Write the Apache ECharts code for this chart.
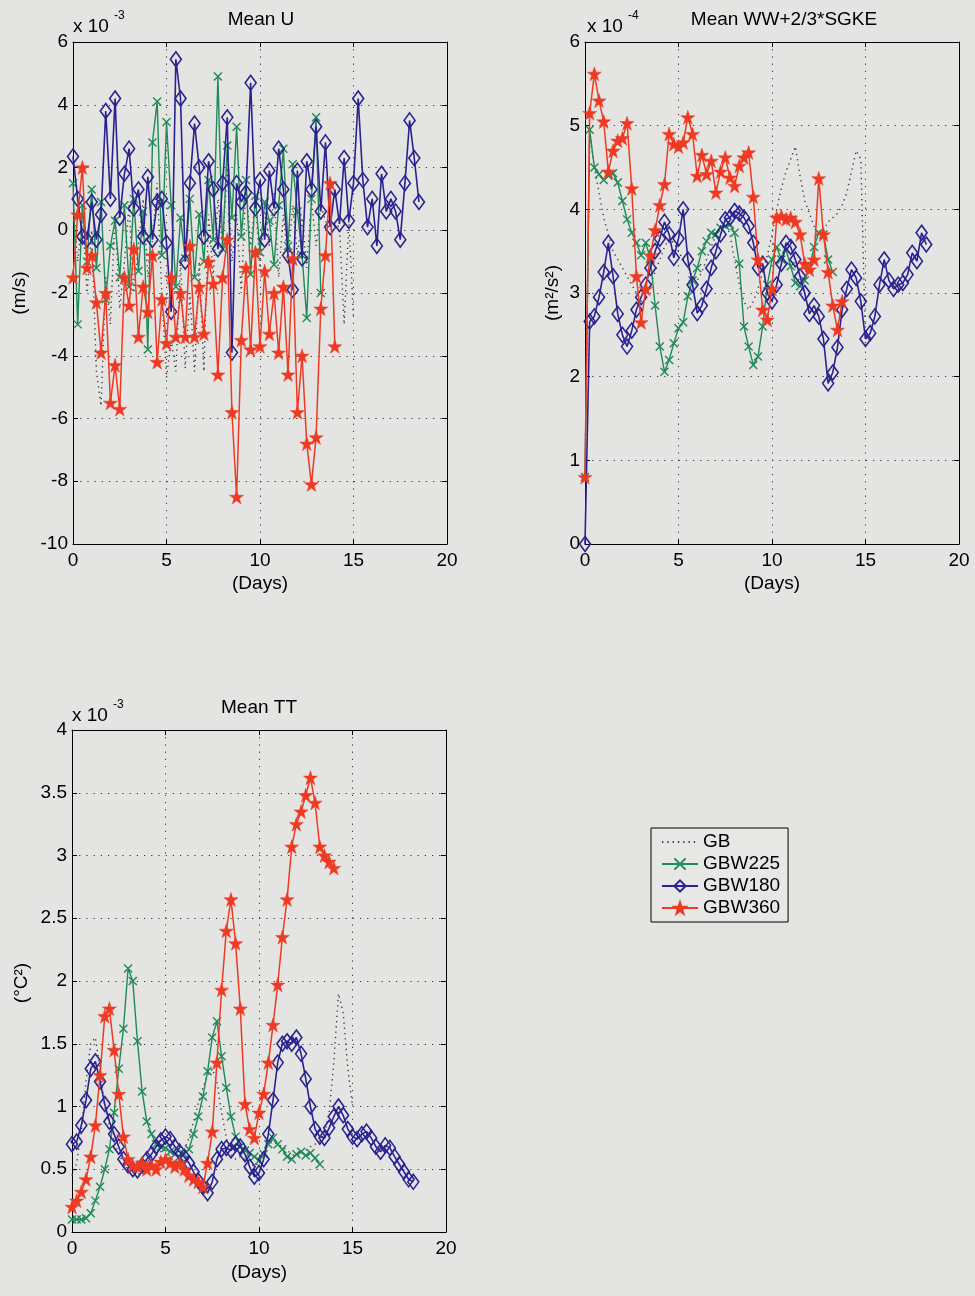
<!DOCTYPE html>
<html>
<head>
<meta charset="utf-8">
<script src="https://cdn.jsdelivr.net/npm/echarts@6.0.0/dist/echarts.min.js"></script>
<style>
html,body{margin:0;padding:0;background:#e4e4e2;}
#c{width:975px;height:1296px;}
</style>
</head>
<body>
<div id="c"></div>
<script>
// sampling interval (days)
const DT = 0.25;
const seriesNames = ['GB', 'GBW225', 'GBW180', 'GBW360'];
const xTicks = [0, 5, 10, 15, 20];

// ---- Mean U (x 10^-3 m/s) ----
const uGB = [1.0,-1.0,0.5,-2.0,0.0,-4.5,-5.6,-1.5,-3.0,0.5,-2.5,-1.0,0.8,-2.0,-0.5,1.0,-1.5,-0.3,1.5,-2.0,
  -4.7,-3.5,-4.5,-1.0,-4.4,-2.0,-4.5,-1.0,-4.5,0.5,-1.5,1.0,-0.5,2.0,-1.0,0.5,-2.0,1.5,-0.5,1.0,
  -1.2,0.8,-0.5,1.2,-1.5,0.5,-1.0,0.8,-0.8,0.4,-1.2,1.0,-0.5,0.8,0.3,0.0,0.2,0.1,-3.0,0.3,-2.8];
const uW225 = [1.5,-3.0,0.8,-1.0,1.3,-1.2,0.9,-2.2,-0.5,0.3,-1.5,0.8,-1.8,1.0,-1.3,0.6,-3.8,2.8,4.1,-0.8,
  3.45,0.8,-1.8,0.4,-0.9,1.0,-1.5,0.5,-1.0,1.6,-0.3,4.9,-0.6,2.7,0.4,3.3,-0.2,1.6,-1.4,1.1,
  -0.7,0.9,0.3,-1.1,0.8,2.6,-0.5,2.1,0.6,-0.8,-2.8,1.0,3.6,-2.0];
const uW180 = [2.35,1.0,-0.2,-0.3,0.9,-0.3,0.5,3.8,1.0,4.2,0.4,1.8,2.6,0.7,1.3,-0.2,1.7,-0.3,0.9,1.0,
  -0.4,-2.6,5.45,4.2,-1.0,1.5,3.4,2.0,-0.2,2.2,1.3,-0.6,1.5,3.6,-3.9,1.5,0.9,1.2,4.7,0.7,
  1.6,-0.3,1.9,0.7,2.6,1.3,-0.8,-1.9,1.9,-0.9,2.2,1.3,3.3,0.6,2.8,0.1,1.3,0.2,2.3,0.3,
  1.5,4.2,1.6,0.1,1.0,-0.5,1.8,0.6,1.0,0.6,-0.3,1.5,3.5,2.3,0.9];
const uW360 = [-1.5,0.5,2.0,-1.2,-0.8,-2.3,-3.9,-2.0,-5.5,-4.3,-5.7,-1.5,-2.4,-0.6,-3.4,-1.8,-2.6,-0.8,-4.2,-2.2,
  -3.6,-1.5,-3.4,-2.0,-3.4,-0.5,-3.4,-1.8,-3.3,-1.0,-1.7,-4.6,-1.5,-0.3,-5.8,-8.5,-3.5,-1.2,-3.8,-0.7,
  -3.7,-1.3,-3.3,-2.0,-3.9,-1.8,-4.6,-0.9,-5.8,-4.0,-6.8,-8.1,-6.6,-2.5,-0.8,1.5,-3.7];

// ---- Mean WW+2/3*SGKE (x 10^-4 m^2/s^2) ----
const wGB = [0.80,4.90,4.50,4.20,3.90,3.70,3.50,3.40,3.30,3.20,3.10,3.00,2.90,2.95,3.10,3.25,3.40,3.55,3.65,3.60,
  3.50,3.40,3.30,3.20,3.15,3.25,3.40,3.55,3.70,3.80,3.85,3.70,3.40,3.10,2.90,2.80,2.90,3.05,3.25,3.45,
  3.70,4.00,4.25,4.45,4.60,4.75,4.40,4.10,3.95,3.80,3.70,3.75,3.85,3.90,3.95,4.05,4.20,4.45,4.70,4.60,2.40];
const wW225 = [0.80,4.95,4.50,4.42,4.35,4.40,4.43,4.32,4.10,3.88,3.72,3.60,3.45,3.60,3.40,2.85,2.36,2.06,2.20,2.40,
  2.58,2.65,2.96,3.15,3.30,3.50,3.62,3.72,3.70,3.78,3.80,3.82,3.72,3.35,2.60,2.36,2.14,2.24,2.60,3.10,
  3.40,3.55,3.40,3.52,3.32,3.12,3.08,3.15,3.30,3.55,3.72,3.70,3.40,3.25];
const wW180 = [0.00,2.66,2.72,2.95,3.25,3.60,3.20,2.75,2.50,2.36,2.55,2.80,2.95,3.10,3.30,3.50,3.65,3.85,3.70,3.42,
  3.65,4.00,3.40,3.10,2.76,2.85,3.05,3.30,3.50,3.70,3.88,3.90,3.98,3.95,3.90,3.80,3.60,3.30,3.35,3.00,
  2.90,3.10,3.35,3.60,3.55,3.40,3.20,3.00,2.75,2.85,2.72,2.45,1.92,2.05,2.35,2.80,3.05,3.28,3.18,2.90,
  2.45,2.52,2.72,3.10,3.40,3.15,3.05,3.10,3.12,3.22,3.48,3.38,3.72,3.58];
const wW360 = [0.80,5.15,5.62,5.30,5.05,4.45,4.70,4.82,4.85,5.03,4.25,3.20,2.65,3.05,3.45,3.75,4.05,4.30,4.90,4.78,
  4.75,4.80,5.10,4.90,4.40,4.65,4.42,4.58,4.20,4.45,4.62,4.38,4.28,4.52,4.62,4.68,4.15,3.40,2.80,2.68,
  3.05,3.90,3.92,3.88,3.90,3.85,3.70,3.35,3.28,3.40,4.37,3.70,3.25,2.85,2.56,2.90];

// ---- Mean TT (x 10^-3 degC^2) ----
const tGB = [0.45,0.55,0.80,1.20,1.50,1.55,1.30,1.00,0.85,0.72,0.62,0.55,0.50,0.47,0.45,0.50,0.55,0.60,0.62,0.64,
  0.65,0.60,0.55,0.58,0.65,0.75,0.88,1.02,1.15,1.25,1.30,1.20,0.95,0.75,0.62,0.58,0.60,0.58,0.55,0.52,
  0.55,0.62,0.70,0.72,0.70,0.68,0.65,0.62,0.60,0.62,0.65,0.68,0.70,0.72,0.78,0.95,1.35,1.90,1.75,1.30,1.00];
const tW225 = [0.10,0.10,0.10,0.11,0.15,0.25,0.36,0.50,0.66,0.95,1.30,1.62,2.10,2.00,1.52,1.12,0.88,0.78,0.70,0.68,
  0.67,0.64,0.62,0.60,0.62,0.66,0.78,0.92,1.08,1.28,1.55,1.68,1.40,1.15,0.92,0.76,0.68,0.65,0.63,0.60,
  0.57,0.62,0.70,0.75,0.70,0.66,0.60,0.58,0.62,0.64,0.61,0.63,0.59,0.54];
const tW180 = [0.70,0.72,0.85,1.05,1.30,1.36,1.20,1.02,0.88,0.78,0.68,0.58,0.53,0.50,0.49,0.53,0.58,0.62,0.68,0.73,
  0.76,0.74,0.68,0.64,0.60,0.55,0.48,0.41,0.36,0.31,0.40,0.58,0.66,0.67,0.65,0.70,0.68,0.62,0.52,0.44,
  0.47,0.58,0.78,1.05,1.35,1.50,1.52,1.50,1.55,1.42,1.22,1.00,0.82,0.76,0.75,0.83,0.92,1.00,0.93,0.82,
  0.76,0.74,0.78,0.80,0.75,0.68,0.64,0.69,0.67,0.60,0.54,0.48,0.42,0.40];
const tW360 = [0.20,0.25,0.32,0.42,0.60,0.85,1.25,1.72,1.78,1.45,1.10,0.76,0.58,0.53,0.52,0.55,0.50,0.53,0.50,0.56,
  0.58,0.55,0.52,0.55,0.50,0.45,0.42,0.40,0.36,0.55,0.80,1.35,1.93,2.40,2.65,2.30,1.78,1.02,0.82,0.75,
  0.95,1.10,1.35,1.65,1.97,2.35,2.65,3.07,3.25,3.35,3.48,3.62,3.42,3.07,3.00,2.95,2.90];

// ---- axis tick values ----
const uTicks = [-10, -8, -6, -4, -2, 0, 2, 4, 6];
const wTicks = [0, 1, 2, 3, 4, 5, 6];
const tTicks = [0, 0.5, 1, 1.5, 2, 2.5, 3, 3.5, 4];

const C = { gb: '#3c3c3c', g: '#1f8a57', b: '#2a2290', r: '#ee3a22' };
const STAR = 'path://M50,0L61.8,35.5L99,35.5L69,57.5L80.5,93L50,71L19.5,93L31,57.5L1,35.5L38.2,35.5Z';
const XMARK = 'path://M0,0L10,10M0,10L10,0';
const FONT = '"Liberation Sans", Arial, Helvetica, sans-serif';

const grids = [
  { left: 73, top: 42, width: 374, height: 502 },
  { left: 585, top: 42, width: 374, height: 502 },
  { left: 72, top: 730, width: 374, height: 502 }
];

function pairs(arr) { return arr.map((v, i) => [i * DT, v]); }

const xAxes = [], yAxes = [];
function addAxes(gi, ticks) {
  const ymin = ticks[0], ymax = ticks[ticks.length - 1], yint = ticks[1] - ticks[0];
  const grid = { lineStyle: { color: '#333', width: 1, type: [1.2, 6] } };
  xAxes.push({
    gridIndex: gi, type: 'value', min: xTicks[0], max: xTicks[xTicks.length - 1], interval: xTicks[1] - xTicks[0],
    axisLine: { show: true, onZero: false, lineStyle: { color: '#000', width: 1 } },
    axisTick: { inside: true, length: 5, lineStyle: { color: '#000' } },
    axisLabel: { color: '#000', fontSize: 19, fontFamily: FONT, margin: 7 },
    splitLine: { show: true, ...grid }
  });
  xAxes.push({
    gridIndex: gi, type: 'value', position: 'top', min: xTicks[0], max: xTicks[xTicks.length - 1], interval: xTicks[1] - xTicks[0],
    axisLine: { show: true, onZero: false, lineStyle: { color: '#000', width: 1 } },
    axisTick: { inside: true, length: 5, lineStyle: { color: '#000' } },
    axisLabel: { show: false }, splitLine: { show: false }
  });
  yAxes.push({
    gridIndex: gi, type: 'value', min: ymin, max: ymax, interval: yint,
    axisLine: { show: true, onZero: false, lineStyle: { color: '#000', width: 1 } },
    axisTick: { inside: true, length: 5, lineStyle: { color: '#000' } },
    axisLabel: { color: '#000', fontSize: 19, fontFamily: FONT, margin: 5 },
    splitLine: { show: true, ...grid }
  });
  yAxes.push({
    gridIndex: gi, type: 'value', position: 'right', min: ymin, max: ymax, interval: yint,
    axisLine: { show: true, onZero: false, lineStyle: { color: '#000', width: 1 } },
    axisTick: { inside: true, length: 5, lineStyle: { color: '#000' } },
    axisLabel: { show: false }, splitLine: { show: false }
  });
}
addAxes(0, uTicks);
addAxes(1, wTicks);
addAxes(2, tTicks);

function mk(name, data, gi) {
  const s = { name, type: 'line', xAxisIndex: gi * 2, yAxisIndex: gi * 2, data: pairs(data), animation: false };
  if (name === 'GB') {
    Object.assign(s, { symbol: 'none', lineStyle: { color: C.gb, width: 1.4, type: [1.3, 4] }, itemStyle: { color: C.gb }, z: 2 });
  } else if (name === 'GBW225') {
    Object.assign(s, { symbol: XMARK, symbolSize: 8, showAllSymbol: true,
      lineStyle: { color: C.g, width: 1.4 }, itemStyle: { color: C.g, borderColor: C.g, borderWidth: 1.4 }, z: 3 });
  } else if (name === 'GBW180') {
    Object.assign(s, { symbol: 'diamond', symbolSize: [11, 15], showAllSymbol: true,
      lineStyle: { color: C.b, width: 1.6 }, itemStyle: { color: 'rgba(0,0,0,0)', borderColor: C.b, borderWidth: 1.6 }, z: 4 });
  } else {
    Object.assign(s, { symbol: STAR, symbolSize: 14, showAllSymbol: true,
      lineStyle: { color: C.r, width: 1.5 }, itemStyle: { color: C.r, borderColor: C.r, borderWidth: 0.5 }, z: 5 });
  }
  return s;
}

const series = [
  mk('GB', uGB, 0), mk('GBW225', uW225, 0), mk('GBW180', uW180, 0), mk('GBW360', uW360, 0),
  mk('GB', wGB, 1), mk('GBW225', wW225, 1), mk('GBW180', wW180, 1), mk('GBW360', wW360, 1),
  mk('GB', tGB, 2), mk('GBW225', tW225, 2), mk('GBW180', tW180, 2), mk('GBW360', tW360, 2)
];

function txt(x, y, text, size, opts) {
  return Object.assign({ type: 'text', x, y, silent: true,
    style: Object.assign({ text, fill: '#000', font: size + 'px ' + FONT, textAlign: 'center', textVerticalAlign: 'middle' }, opts || {}) });
}
function vtxt(x, y, text, size) {
  return { type: 'text', x, y, rotation: Math.PI / 2, silent: true,
    style: { text, fill: '#000', font: size + 'px ' + FONT, textAlign: 'center', textVerticalAlign: 'middle' } };
}

const graphic = [
  txt(261, 20, 'Mean U', 19),
  txt(73, 27, 'x 10', 19, { textAlign: 'left' }),
  txt(114, 16, '-3', 12, { textAlign: 'left' }),
  txt(260, 584, '(Days)', 19),
  vtxt(20, 293, '(m/s)', 19),

  txt(784, 20, 'Mean WW+2/3*SGKE', 19),
  txt(587, 27, 'x 10', 19, { textAlign: 'left' }),
  txt(628, 16, '-4', 12, { textAlign: 'left' }),
  txt(772, 584, '(Days)', 19),
  vtxt(553, 293, '(m\u00B2/s\u00B2)', 19),

  txt(259, 708, 'Mean TT', 19),
  txt(72, 716, 'x 10', 19, { textAlign: 'left' }),
  txt(113, 705, '-3', 12, { textAlign: 'left' }),
  txt(259, 1273, '(Days)', 19),
  vtxt(22, 983, '(\u00B0C\u00B2)', 19)
];

const chart = echarts.init(document.getElementById('c'), null, { renderer: 'canvas' });
chart.setOption({
  animation: false,
  backgroundColor: '#e4e4e2',
  grid: grids.map(g => Object.assign({ show: false }, g)),
  xAxis: xAxes,
  yAxis: yAxes,
  legend: {
    data: [
      { name: seriesNames[0], itemStyle: { opacity: 0 } },
      seriesNames[1], seriesNames[2], seriesNames[3]
    ],
    orient: 'vertical', left: 651, top: 828,
    padding: [4, 8, 4, 10], itemGap: 2, itemWidth: 36, itemHeight: 14,
    borderColor: '#000', borderWidth: 1, backgroundColor: '#e7e7e5',
    textStyle: { color: '#000', fontSize: 19, fontFamily: FONT, lineHeight: 20 },
    selectedMode: false
  },
  graphic,
  series
});
</script>
</body>
</html>
